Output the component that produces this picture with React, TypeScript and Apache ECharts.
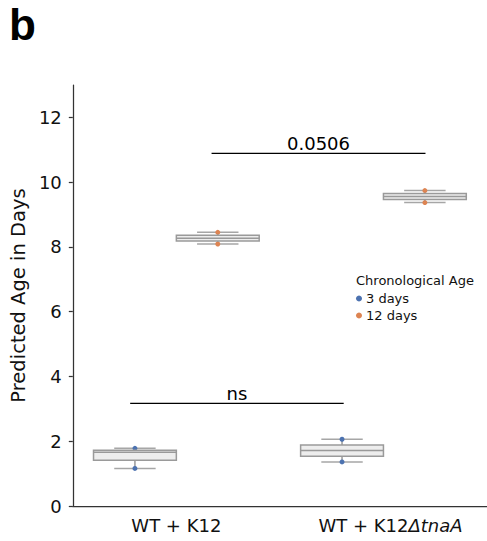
import React, { useEffect, useRef } from 'react';
import * as echarts from 'echarts';

const categories = ['WT + K12', 'WT + K12ΔtnaA'];
const hueNames = ['3 days', '12 days'];
const hueColors = ['#4c72b0', '#dd8452'];
const yTicks = [0, 2, 4, 6, 8, 10, 12];
// individual predicted ages per category
const points3Days = [
  [1.16, 1.66, 1.78],
  [1.36, 1.71, 2.06],
];
const points12Days = [
  [8.09, 8.27, 8.45],
  [9.37, 9.56, 9.74],
];
// significance brackets (x in category units, y in days)
const sigLabels = ['ns', '0.0506'];
const sigStart = [-0.223, 0.17];
const sigEnd = [0.808, 1.203];
const sigY = [3.17, 10.886];

const FONT = 'DejaVu Sans';
const hueOffset = [-0.2, 0.2];
const BOX_HALF = 0.2;
const CAP_HALF = 0.1;

function quantile(sorted: number[], q: number) {
  const pos = (sorted.length - 1) * q;
  const lo = Math.floor(pos);
  const hi = Math.ceil(pos);
  return sorted[lo] + (sorted[hi] - sorted[lo]) * (pos - lo);
}

const allPoints = [points3Days, points12Days];

const boxData: number[][] = [];
allPoints.forEach((byCat, h) => {
  byCat.forEach((pts, c) => {
    const s = [...pts].sort((a, b) => a - b);
    boxData.push([c, h, s[0], quantile(s, 0.25), quantile(s, 0.5), quantile(s, 0.75), s[s.length - 1]]);
  });
});

const sigData = sigLabels.map((_, i) => [sigStart[i], sigEnd[i], sigY[i]]);

export default function App() {
  const ref = useRef<HTMLDivElement>(null);
  useEffect(() => {
    if (!ref.current) return;
    const chart = echarts.init(ref.current, null, { renderer: 'svg' });

    const geom = (api: any) => {
      const c = api.value(0);
      const h = api.value(1);
      const xc = c + hueOffset[h];
      const [xl, yq3] = api.coord([xc - BOX_HALF, api.value(5)]);
      const [xr, yq1] = api.coord([xc + BOX_HALF, api.value(3)]);
      const [xm, ymed] = api.coord([xc, api.value(4)]);
      const [, ymax] = api.coord([xc, api.value(6)]);
      const [, ymin] = api.coord([xc, api.value(2)]);
      const [cl] = api.coord([xc - CAP_HALF, 0]);
      const [cr] = api.coord([xc + CAP_HALF, 0]);
      return { xl, xr, xm, cl, cr, yq1, yq3, ymed, ymax, ymin };
    };

    const whiskerRender = (params: any, api: any) => {
      const g = geom(api);
      const ls = { stroke: '#999999', lineWidth: 1.5 };
      const cs = { stroke: '#a6a6a6', lineWidth: 1.5 };
      return {
        type: 'group',
        children: [
          { type: 'line', shape: { x1: g.xm, y1: g.yq3, x2: g.xm, y2: g.ymax }, style: ls },
          { type: 'line', shape: { x1: g.xm, y1: g.yq1, x2: g.xm, y2: g.ymin }, style: ls },
          { type: 'line', shape: { x1: g.cl, y1: g.ymax, x2: g.cr, y2: g.ymax }, style: cs },
          { type: 'line', shape: { x1: g.cl, y1: g.ymin, x2: g.cr, y2: g.ymin }, style: cs },
        ],
      };
    };

    const boxRender = (params: any, api: any) => {
      const g = geom(api);
      return {
        type: 'group',
        children: [
          {
            type: 'rect',
            shape: { x: g.xl, y: g.yq3, width: g.xr - g.xl, height: g.yq1 - g.yq3 },
            style: { fill: '#ededed', stroke: '#9a9a9a', lineWidth: 1.5 },
          },
          { type: 'line', shape: { x1: g.xl, y1: g.ymed, x2: g.xr, y2: g.ymed }, style: { stroke: '#999999', lineWidth: 1.5 } },
        ],
      };
    };

    const sigRender = (params: any, api: any) => {
      const i = params.dataIndex;
      const [x1, y] = api.coord([api.value(0), api.value(2)]);
      const [x2] = api.coord([api.value(1), api.value(2)]);
      return {
        type: 'group',
        children: [
          { type: 'line', shape: { x1, y1: y, x2, y2: y }, style: { stroke: '#000', lineWidth: 1.3 } },
          {
            type: 'text',
            x: (x1 + x2) / 2,
            y: y - 1,
            style: {
              text: sigLabels[i],
              fontSize: 18,
              fontFamily: FONT,
              fill: '#000',
              align: 'center',
              verticalAlign: 'bottom',
            },
          },
        ],
      };
    };

    const scatterSeries = allPoints.map((byCat, h) => ({
      type: 'scatter',
      name: hueNames[h],
      xAxisIndex: 1,
      yAxisIndex: 0,
      symbol: 'circle',
      symbolSize: 5,
      itemStyle: { color: hueColors[h], opacity: 1 },
      z: 3,
      data: byCat.flatMap((pts, c) => pts.map((v) => [c + hueOffset[h], v])),
    }));

    chart.setOption({
      animation: false,
      title: {
        text: 'b',
        left: 9,
        top: 2,
        padding: 0,
        textStyle: { fontFamily: 'Liberation Sans', fontWeight: 'bold', fontSize: 44, color: '#000' },
      },
      graphic: [
        {
          type: 'text',
          left: 356,
          top: 273.5,
          style: { text: 'Chronological Age', fontSize: 13, fontFamily: FONT, fill: '#111' },
        },
      ],
      legend: {
        data: hueNames,
        orient: 'vertical',
        left: 356,
        top: 292,
        padding: 0,
        itemGap: 4,
        itemWidth: 6,
        itemHeight: 6,
        icon: 'circle',
        textStyle: { fontSize: 13, fontFamily: FONT, color: '#111', padding: [0, 0, 0, -1] },
      },
      grid: { left: 70, top: 85, width: 424, height: 421 },
      xAxis: [
        {
          type: 'category',
          data: categories,
          boundaryGap: true,
          axisLine: { onZero: false, lineStyle: { color: '#333', width: 1.25 } },
          axisTick: { alignWithLabel: true, length: 4, lineStyle: { color: '#333', width: 1.25 } },
          axisLabel: {
            interval: 0,
            hideOverlap: false,
            fontSize: 18,
            fontFamily: FONT,
            color: '#111',
            margin: 10,
            formatter: (v: string) => {
              const k = v.indexOf('Δ');
              return k >= 0 ? `{a|${v.slice(0, k)}}{i|${v.slice(k)}}` : v;
            },
            rich: {
              a: { fontSize: 18, fontFamily: FONT, color: '#111', padding: [0, 0, 0, 14] },
              i: { fontSize: 18, fontFamily: FONT, fontStyle: 'italic', color: '#111' },
            },
          },
          splitLine: { show: false },
        },
        { type: 'value', min: -0.5, max: 1.5, show: false },
      ],
      yAxis: {
        type: 'value',
        min: 0,
        max: 13,
        name: 'Predicted Age in Days',
        nameLocation: 'middle',
        nameGap: 40,
        nameTextStyle: { fontSize: 19.5, fontFamily: FONT, color: '#111' },
        axisLine: { show: true, onZero: false, lineStyle: { color: '#333', width: 1.25 } },
        axisTick: { show: true, length: 4, customValues: yTicks, lineStyle: { color: '#333', width: 1.25 } },
        axisLabel: { fontSize: 18, fontFamily: FONT, color: '#111', margin: 11, customValues: yTicks },
        splitLine: { show: false },
      },
      series: [
        {
          type: 'custom',
          xAxisIndex: 1,
          yAxisIndex: 0,
          renderItem: whiskerRender,
          encode: { x: 0, y: [2, 3, 4, 5, 6] },
          data: boxData,
          z: 2,
        },
        ...scatterSeries,
        {
          type: 'custom',
          xAxisIndex: 1,
          yAxisIndex: 0,
          renderItem: boxRender,
          encode: { x: 0, y: [2, 3, 4, 5, 6] },
          data: boxData,
          z: 4,
        },
        {
          type: 'custom',
          xAxisIndex: 1,
          yAxisIndex: 0,
          renderItem: sigRender,
          encode: { x: [0, 1], y: 2 },
          data: sigData,
          z: 5,
        },
      ],
    });
    return () => chart.dispose();
  }, []);
  return <div ref={ref} style={{ width: 487, height: 541, position: 'absolute', left: 0, top: 0 }} />;
}
